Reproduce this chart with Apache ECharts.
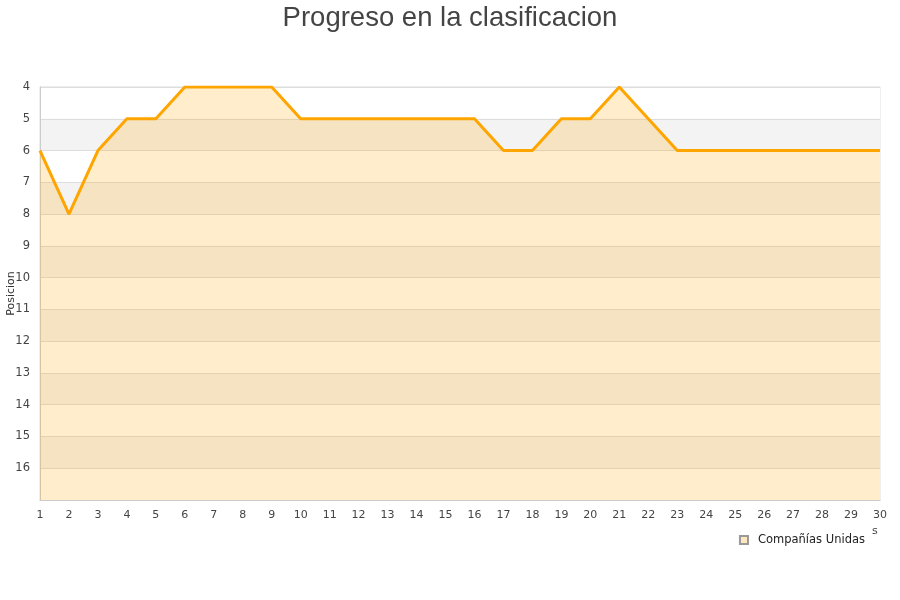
<!DOCTYPE html>
<html>
<head>
<meta charset="utf-8">
<script src="https://cdn.jsdelivr.net/npm/echarts@6/dist/echarts.min.js"></script>
<style>html,body{margin:0;padding:0;background:#fff;}#c{width:900px;height:600px;}</style>
</head>
<body>
<div id="c"></div>
<script>
const jornadas = ['1','2','3','4','5','6','7','8','9','10','11','12','13','14','15','16','17','18','19','20','21','22','23','24','25','26','27','28','29','30'];
const posiciones = [6,8,6,5,5,4,4,4,4,5,5,5,5,5,5,5,6,6,5,5,4,5,6,6,6,6,6,6,6,6];
const seriesName = 'Compañías Unidas';
const chartTitle = 'Progreso en la clasificacion';
const yAxisName = 'Posicion';

const chart = echarts.init(document.getElementById('c'));
chart.setOption({
  animation: false,
  backgroundColor: '#fff',
  title: {
    text: chartTitle,
    left: 'center',
    top: -1,
    textStyle: { fontFamily: 'Liberation Sans, Arial, sans-serif', fontSize: 27.5, fontWeight: 'normal', color: '#444' }
  },
  legend: {
    data: [{ name: seriesName, icon: 'rect' }],
    right: 30,
    top: 529,
    itemWidth: 8,
    itemHeight: 8,
    itemGap: 10,
    textStyle: { fontFamily: 'DejaVu Sans, sans-serif', fontSize: 11.5, color: '#222', padding: [0, 0, 0, 5] }
  },
  grid: {
    left: 40, right: 20, top: 87, bottom: 100,
    outerBoundsMode: 'none',
    containLabel: false,
    show: true, borderColor: '#ddd', borderWidth: 1, backgroundColor: 'transparent'
  },
  xAxis: {
    type: 'category',
    data: jornadas,
    boundaryGap: false,
    axisLine: { lineStyle: { color: '#ccc' } },
    axisTick: { show: false },
    axisLabel: { color: '#444', fontSize: 11, fontFamily: 'DejaVu Sans, sans-serif', margin: 10, interval: 0 },
    splitLine: { show: false }
  },
  yAxis: {
    type: 'value',
    inverse: true,
    min: 4,
    max: 17,
    interval: 1,
    name: yAxisName,
    nameLocation: 'middle',
    nameGap: 23,
    nameMoveOverlap: false,
    nameTextStyle: { color: '#333', fontSize: 11, fontFamily: 'DejaVu Sans, sans-serif' },
    axisLine: { show: true, lineStyle: { color: '#ccc' } },
    axisTick: { show: false },
    axisLabel: {
      color: '#444', fontSize: 11.5, fontFamily: 'DejaVu Sans, sans-serif', margin: 10,
      formatter: function (v) { return v === 17 ? '' : String(v); }
    },
    splitLine: { show: true, lineStyle: { color: '#ddd' } },
    splitArea: { show: true, areaStyle: { color: ['#ffffff', '#f3f3f3'] } }
  },
  series: [{
    name: seriesName,
    type: 'line',
    data: posiciones,
    showSymbol: false,
    symbol: 'none',
    lineStyle: { color: '#FFA500', width: 3 },
    itemStyle: { color: '#ffe8c0', borderColor: '#999', borderWidth: 1 },
    areaStyle: { color: '#FFA500', opacity: 0.2, origin: 'end' }
  }],
  graphic: [{
    type: 'text', left: 872, top: 526,
    style: { text: 's', fill: '#444', fontSize: 11, fontFamily: 'DejaVu Sans, sans-serif' }
  }]
});
</script>
</body>
</html>
